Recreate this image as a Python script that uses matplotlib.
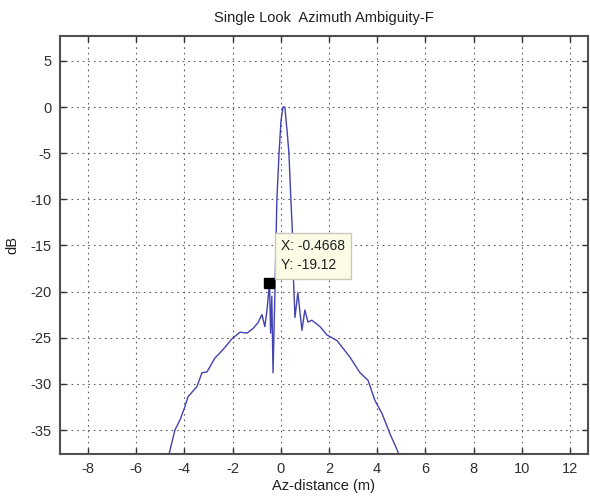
import matplotlib
matplotlib.use("Agg")
import matplotlib.pyplot as plt

plt.rcParams['font.family'] = ['Liberation Sans', 'DejaVu Sans']

# Data
az_distance = [-4.70, -4.39, -4.18, -3.98, -3.85, -3.48, -3.27, -3.06, -2.73, -2.40,
               -2.02, -1.69, -1.40, -1.15, -0.95, -0.78, -0.66, -0.57, -0.4668, -0.42,
               -0.37, -0.32, -0.24, -0.20, -0.16, -0.07, 0.01, 0.09, 0.17, 0.26,
               0.34, 0.42, 0.51, 0.53, 0.59, 0.71, 0.88, 1.00, 1.13, 1.29,
               1.63, 1.92, 2.33, 2.87, 3.29, 3.62, 3.91, 4.20, 4.53, 4.82, 5.03]
db_values = [-38.3, -35.0, -33.9, -32.5, -31.4, -30.3, -28.8, -28.7, -27.2, -26.3,
             -25.1, -24.4, -24.5, -24.0, -23.4, -22.5, -23.8, -22.0, -19.12, -24.5,
             -20.5, -28.8, -20.0, -15.0, -10.0, -5.0, -1.5, 0.0, 0.0, -2.5,
             -5.0, -10.0, -15.0, -18.8, -22.8, -20.1, -24.2, -22.0, -23.3, -23.1,
             -23.8, -24.7, -25.3, -27.1, -28.8, -29.6, -31.8, -33.2, -35.4, -37.1, -38.5]
tip_x = -0.4668
tip_y = -19.12
x_ticks = [-8, -6, -4, -2, 0, 2, 4, 6, 8, 10, 12]
y_ticks = [5, 0, -5, -10, -15, -20, -25, -30, -35]

fig = plt.figure(figsize=(5.9, 4.96), dpi=100)
ax = fig.add_axes([60/590, 42/496, 528/590, 418/496])

ax.plot(az_distance, db_values, color='#4242b0', linewidth=1.0)
ax.plot([tip_x], [tip_y], marker='s', color='black', markersize=7, linestyle='none')

ax.set_xlim(-9.16, 12.75)
ax.set_ylim(-37.6, 7.7)
ax.set_xticks(x_ticks)
ax.set_yticks(y_ticks)
ax.set_xticklabels([str(t) for t in x_ticks])
ax.set_yticklabels([str(t) for t in y_ticks])
ax.tick_params(direction='in', length=4, width=1, colors='#303030', labelsize=10.5,
               top=True, right=True, labeltop=False, labelright=False, pad=6)
ax.grid(True, linestyle=(0, (1.5, 3.5)), color='#606060', linewidth=0.8)
for s in ax.spines.values():
    s.set_color('#505050')
    s.set_linewidth(1.5)

ax.set_title('Single Look  Azimuth Ambiguity-F', fontsize=10.5, color='#202020', pad=10)
ax.set_xlabel('Az-distance (m)', fontsize=10.5, color='#202020', labelpad=2)
ax.set_ylabel('dB', fontsize=10.5, color='#202020', labelpad=8)

ax.text(tip_x + 0.48, tip_y + 1.2, 'X: -0.4668\nY: -19.12',
        fontsize=10, color='#202020', linespacing=1.45, ha='left', va='bottom',
        bbox=dict(boxstyle='square,pad=0.45', fc='#fbfbe6', ec='#c8c8b8', lw=1))

fig.savefig('out.png', dpi=100)
